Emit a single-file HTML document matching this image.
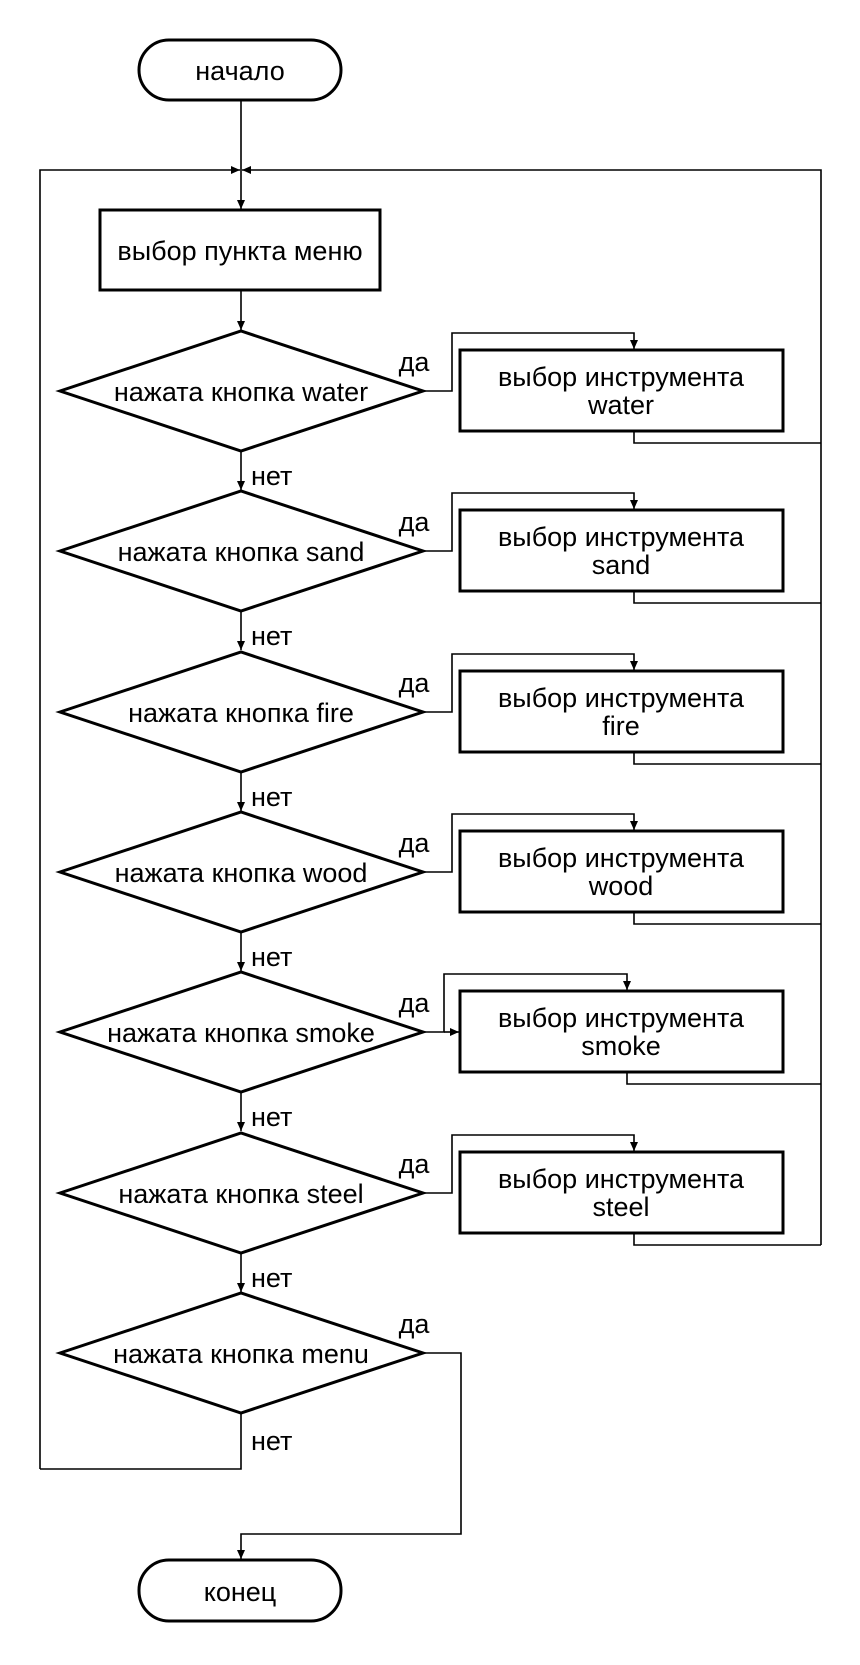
<!DOCTYPE html>
<html><head><meta charset="utf-8"><style>body{margin:0;background:#fff}</style></head>
<body>
<svg width="860" height="1660" viewBox="0 0 860 1660" xmlns="http://www.w3.org/2000/svg" font-family="Liberation Sans, Arial, sans-serif" font-size="27" text-anchor="middle">
<defs>
<marker id="a" markerWidth="10" markerHeight="10" refX="9" refY="4" orient="auto" markerUnits="userSpaceOnUse"><path d="M0,0 L9,4 L0,8 z" fill="#000"/></marker>
</defs>
<rect width="860" height="1660" fill="#fff"/>
<g fill="none" stroke="#000" stroke-width="1.6">
<line x1="241" y1="100" x2="241" y2="209" marker-end="url(#a)"/>
<polyline points="40,1469 40,170 240,170" marker-end="url(#a)"/>
<polyline points="821,1245 821,170 242,170" marker-end="url(#a)"/>
<line x1="241" y1="290" x2="241" y2="330" marker-end="url(#a)"/>

<polyline points="423,391 452,391 452,333 634,333 634,349" marker-end="url(#a)"/>
<polyline points="634,431 634,443 821,443"/>
<line x1="241" y1="451" x2="241" y2="490" marker-end="url(#a)"/>

<polyline points="423,551 452,551 452,493 634,493 634,509" marker-end="url(#a)"/>
<polyline points="634,591 634,603 821,603"/>
<line x1="241" y1="611" x2="241" y2="650" marker-end="url(#a)"/>

<polyline points="423,712 452,712 452,654 634,654 634,670" marker-end="url(#a)"/>
<polyline points="634,752 634,764 821,764"/>
<line x1="241" y1="772" x2="241" y2="811" marker-end="url(#a)"/>

<polyline points="423,872 452,872 452,814 634,814 634,830" marker-end="url(#a)"/>
<polyline points="634,912 634,924 821,924"/>
<line x1="241" y1="932" x2="241" y2="971" marker-end="url(#a)"/>

<polyline points="423,1032 444,1032 444,974 627,974 627,990" marker-end="url(#a)"/>
<line x1="444" y1="1032" x2="459" y2="1032" marker-end="url(#a)"/>
<polyline points="627,1072 627,1084 821,1084"/>
<line x1="241" y1="1092" x2="241" y2="1131" marker-end="url(#a)"/>

<polyline points="423,1193 452,1193 452,1135 634,1135 634,1151" marker-end="url(#a)"/>
<polyline points="634,1233 634,1245 821,1245"/>
<line x1="241" y1="1253" x2="241" y2="1292" marker-end="url(#a)"/>

<polyline points="423,1353 461,1353 461,1534 241,1534 241,1559" marker-end="url(#a)"/>
<polyline points="241,1413 241,1469 40,1469"/>
</g>
<g fill="none" stroke="#000" stroke-width="3">
<rect x="139" y="40" width="202" height="60" rx="30"/>
<rect x="100" y="210" width="280" height="80"/>
<rect x="139" y="1560" width="202" height="61" rx="30"/>
<polygon points="60,391 241,331 423,391 241,451"/>
<polygon points="60,551 241,491 423,551 241,611"/>
<polygon points="60,712 241,652 423,712 241,772"/>
<polygon points="60,872 241,812 423,872 241,932"/>
<polygon points="60,1032 241,972 423,1032 241,1092"/>
<polygon points="60,1193 241,1133 423,1193 241,1253"/>
<polygon points="60,1353 241,1293 423,1353 241,1413"/>
<rect x="460" y="350" width="323" height="81"/>
<rect x="460" y="510" width="323" height="81"/>
<rect x="460" y="671" width="323" height="81"/>
<rect x="460" y="831" width="323" height="81"/>
<rect x="460" y="991" width="323" height="81"/>
<rect x="460" y="1152" width="323" height="81"/>
</g>
<text x="240" y="80">начало</text>
<text x="240" y="260">выбор пункта меню</text>
<text x="240" y="1601">конец</text>

<text x="241" y="401">нажата кнопка water</text>
<text x="241" y="561">нажата кнопка sand</text>
<text x="241" y="722">нажата кнопка fire</text>
<text x="241" y="882">нажата кнопка wood</text>
<text x="241" y="1042">нажата кнопка smoke</text>
<text x="241" y="1203">нажата кнопка steel</text>
<text x="241" y="1363">нажата кнопка menu</text>

<text x="621" y="386">выбор инструмента</text><text x="621" y="414">water</text>
<text x="621" y="546">выбор инструмента</text><text x="621" y="574">sand</text>
<text x="621" y="707">выбор инструмента</text><text x="621" y="735">fire</text>
<text x="621" y="867">выбор инструмента</text><text x="621" y="895">wood</text>
<text x="621" y="1027">выбор инструмента</text><text x="621" y="1055">smoke</text>
<text x="621" y="1188">выбор инструмента</text><text x="621" y="1216">steel</text>

<text x="414" y="371">да</text>
<text x="414" y="531">да</text>
<text x="414" y="692">да</text>
<text x="414" y="852">да</text>
<text x="414" y="1012">да</text>
<text x="414" y="1173">да</text>
<text x="414" y="1333">да</text>

<g text-anchor="start">
<text x="251" y="485">нет</text>
<text x="251" y="645">нет</text>
<text x="251" y="806">нет</text>
<text x="251" y="966">нет</text>
<text x="251" y="1126">нет</text>
<text x="251" y="1287">нет</text>
<text x="251" y="1450">нет</text>
</g>
</svg>
</body></html>
